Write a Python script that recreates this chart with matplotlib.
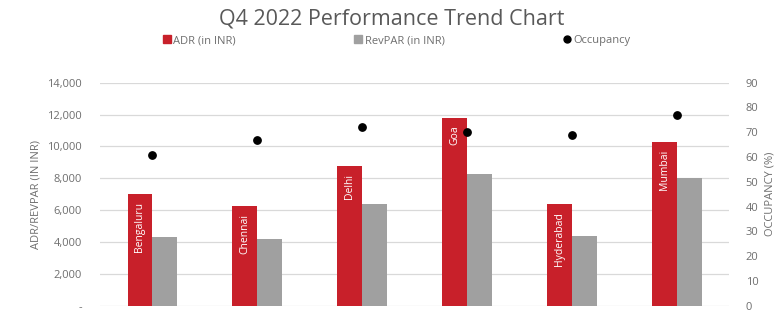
import matplotlib.pyplot as plt
import numpy as np

plt.rcParams['font.family'] = ['Open Sans', 'DejaVu Sans']

cities = ['Bengaluru', 'Chennai', 'Delhi', 'Goa', 'Hyderabad', 'Mumbai']
adr = [7000, 6250, 8800, 11800, 6400, 10300]
revpar = [4300, 4200, 6400, 8300, 4400, 8000]
occupancy = [61, 67, 72, 70, 69, 77]

left_ticks = [0, 2000, 4000, 6000, 8000, 10000, 12000, 14000]
left_labels = ['-', '2,000', '4,000', '6,000', '8,000', '10,000', '12,000', '14,000']
right_ticks = [0, 10, 20, 30, 40, 50, 60, 70, 80, 90]

red = '#C8202A'
grey = '#A0A0A0'
txt = '#6E6E6E'

fig = plt.figure(figsize=(7.84, 3.12), dpi=100)
ax = fig.add_axes([0.1276, 0.02, 0.8024, 0.715])
ax2 = ax.twinx()

x = np.arange(len(cities))
w = 0.238
ax.bar(x - w / 2, adr, w, color=red, zorder=3)
ax.bar(x + w / 2, revpar, w, color=grey, zorder=3)
for xi, v, name in zip(x, adr, cities):
    ax.text(xi - w / 2, v - 500, name, rotation=90, ha='center', va='top',
            color='white', fontsize=7.5, zorder=4)

ax2.scatter(x, occupancy, s=28, color='black', zorder=5)

ax.set_xlim(-0.5, len(cities) - 0.5)
ax.set_ylim(0, 14000)
ax2.set_ylim(0, 90)
ax.set_yticks(left_ticks)
ax.set_yticklabels(left_labels)
ax2.set_yticks(right_ticks)
ax.set_xticks([])
ax.grid(axis='y', color='#D9D9D9', linewidth=0.9, zorder=0)
ax.set_axisbelow(True)

for a in (ax, ax2):
    for s in a.spines.values():
        s.set_visible(False)
ax.tick_params(axis='y', length=0, labelsize=8, labelcolor=txt, pad=13)
ax2.tick_params(axis='y', length=0, labelsize=8, labelcolor=txt, pad=12)

ax.set_ylabel('ADR/REVPAR (IN INR)', fontsize=8, color=txt, labelpad=4)
ax2.set_ylabel('OCCUPANCY (%)', fontsize=8, color=txt, rotation=90, labelpad=4)

fig.text(0.5, 0.94, 'Q4 2022 Performance Trend Chart', ha='center', va='center',
         fontsize=15.5, color='#595959')

handles = [
    plt.Line2D([], [], marker='s', linestyle='', color=red, markersize=6),
    plt.Line2D([], [], marker='s', linestyle='', color=grey, markersize=6),
    plt.Line2D([], [], marker='o', linestyle='', color='black', markersize=5),
]
labels = ['ADR (in INR)', 'RevPAR (in INR)', 'Occupancy']
fig.legend(handles, labels, loc='center', bbox_to_anchor=(0.505, 0.87), ncol=3,
           frameon=False, fontsize=8, labelcolor=txt, columnspacing=10.5,
           handletextpad=0.1, handlelength=1)

fig.savefig('out.png', dpi=100)
